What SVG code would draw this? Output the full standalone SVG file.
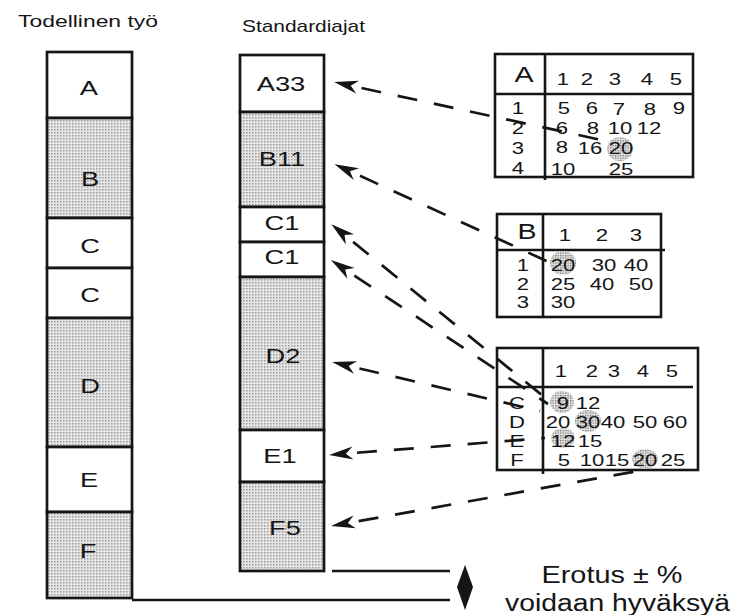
<svg xmlns="http://www.w3.org/2000/svg" width="731" height="615" viewBox="0 0 731 615">
<style>
text { font-family: "Liberation Sans", Arial, sans-serif; fill: #151515; }
.s { transform-box: fill-box; transform-origin: center; transform: scaleX(1.3); text-anchor: middle; }
.lbl { font-size: 21px; }
.th { font-size: 22px; }
.rl { font-size: 17px; }
.tn { font-size: 17px; }
.hd { font-size: 17px; }
.big { font-size: 23px; }
.box { stroke: #151515; stroke-width: 2.7; }
.w { fill: #ffffff; }
.g { fill: url(#dots); }
.tbl { fill: #ffffff; stroke: #151515; stroke-width: 2.6; }
.tl { stroke: #151515; stroke-width: 2.6; fill: none; }
.hl { fill: url(#dotsDark); }
.con { stroke: #151515; stroke-width: 2.7; stroke-dasharray: 20 17; stroke-dashoffset: 15; fill: none; marker-start: url(#ah); }
</style>
<defs>
<pattern id="dots" width="3" height="3" patternUnits="userSpaceOnUse">
<rect width="3" height="3" fill="#e6e6e6"/>
<rect width="1.5" height="1.5" fill="#9a9a9a"/>
</pattern>
<pattern id="dotsDark" width="2.5" height="2.5" patternUnits="userSpaceOnUse">
<rect width="2.5" height="2.5" fill="#e2e2e2"/>
<rect width="1.3" height="1.3" fill="#7a7a7a"/>
</pattern>
<marker id="ah" markerUnits="userSpaceOnUse" markerWidth="30" markerHeight="20" viewBox="-2 -10 30 20" refX="18" refY="0" orient="auto-start-reverse" overflow="visible">
<path d="M0,-6.5 L24,0 L0,6.5 L7,0 Z" fill="#151515"/>
</marker>
</defs>
<rect width="731" height="615" fill="#ffffff"/>

<!-- headers -->
<text id="h1" class="hd" x="18" y="27" textLength="140" lengthAdjust="spacingAndGlyphs">Todellinen työ</text>
<text id="h2" class="hd" x="242" y="32" textLength="123" lengthAdjust="spacingAndGlyphs">Standardiajat</text>

<!-- left column -->
<g id="L-A"><rect class="box w" x="47" y="52" width="85" height="66"/><text class="lbl s" x="89" y="95">A</text></g>
<g id="L-B"><rect class="box g" x="47" y="118" width="85" height="100"/><text class="lbl s" x="90" y="186">B</text></g>
<g id="L-C1"><rect class="box w" x="47" y="218" width="85" height="50"/><text class="lbl s" x="90" y="253">C</text></g>
<g id="L-C2"><rect class="box w" x="47" y="268" width="85" height="50"/><text class="lbl s" x="90" y="302">C</text></g>
<g id="L-D"><rect class="box g" x="47" y="318" width="85" height="129"/><text class="lbl s" x="90" y="393">D</text></g>
<g id="L-E"><rect class="box w" x="47" y="447" width="85" height="65"/><text class="lbl s" x="89" y="487">E</text></g>
<g id="L-F"><rect class="box g" x="47" y="512" width="85" height="86"/><text class="lbl s" x="88" y="558">F</text></g>

<!-- middle column -->
<g id="M-A33"><rect class="box w" x="240" y="55" width="84" height="57"/><text class="lbl s" x="281" y="91">A33</text></g>
<g id="M-B11"><rect class="box g" x="240" y="112" width="84" height="95"/><text class="lbl s" x="282" y="166">B11</text></g>
<g id="M-C1a"><rect class="box w" x="240" y="207" width="84" height="35"/><text class="lbl s" x="282" y="230">C1</text></g>
<g id="M-C1b"><rect class="box w" x="240" y="242" width="84" height="35"/><text class="lbl s" x="282" y="264">C1</text></g>
<g id="M-D2"><rect class="box g" x="240" y="277" width="84" height="153"/><text class="lbl s" x="283" y="363">D2</text></g>
<g id="M-E1"><rect class="box w" x="240" y="430" width="84" height="52"/><text class="lbl s" x="280" y="463">E1</text></g>
<g id="M-F5"><rect class="box g" x="240" y="482" width="84" height="89"/><text class="lbl s" x="285" y="535">F5</text></g>

<!-- table A -->
<g id="T-A">
<rect class="tbl" x="495" y="54" width="198" height="123"/>
<line class="tl" x1="545" y1="54" x2="545" y2="180"/>
<line class="tl" x1="495" y1="94" x2="693" y2="94"/>
<ellipse class="hl" cx="620" cy="149" rx="13" ry="12"/>
<text class="th s" x="524" y="82">A</text>
<text class="tn s" x="563" y="85">1</text><text class="tn s" x="587" y="85">2</text><text class="tn s" x="615" y="85">3</text><text class="tn s" x="647" y="85">4</text><text class="tn s" x="676" y="85">5</text>
<text class="tn s" x="518" y="114">1</text><text class="tn s" x="518" y="134">2</text><text class="tn s" x="518" y="154">3</text><text class="tn s" x="518" y="174">4</text>
<text class="tn s" x="564" y="114">5</text><text class="tn s" x="592" y="114">6</text><text class="tn s" x="619" y="115">7</text><text class="tn s" x="650" y="115">8</text><text class="tn s" x="679" y="114">9</text>
<text class="tn s" x="562" y="134">6</text><text class="tn s" x="593" y="134">8</text><text class="tn s" x="620" y="134">10</text><text class="tn s" x="649" y="134">12</text>
<text class="tn s" x="562" y="153">8</text><text class="tn s" x="590" y="154">16</text><text class="tn s" x="621" y="154">20</text>
<text class="tn s" x="563" y="175">10</text><text class="tn s" x="621" y="175">25</text>
</g>

<!-- table B -->
<g id="T-B">
<rect class="tbl" x="497" y="214" width="164" height="103"/>
<line class="tl" x1="543" y1="214" x2="543" y2="317"/>
<line class="tl" x1="497" y1="250" x2="665" y2="250"/>
<ellipse class="hl" cx="563" cy="263" rx="13" ry="12"/>
<text class="th s" x="527" y="239">B</text>
<text class="tn s" x="565" y="241">1</text><text class="tn s" x="602" y="241">2</text><text class="tn s" x="636" y="241">3</text>
<text class="tn s" x="523" y="271">1</text><text class="tn s" x="523" y="290">2</text><text class="tn s" x="523" y="308">3</text>
<text class="tn s" x="563" y="271">20</text><text class="tn s" x="604" y="271">30</text><text class="tn s" x="636" y="271">40</text>
<text class="tn s" x="563" y="290">25</text><text class="tn s" x="602" y="290">40</text><text class="tn s" x="641" y="290">50</text>
<text class="tn s" x="563" y="308">30</text>
</g>

<!-- table C-F -->
<g id="T-CF">
<rect class="tbl" x="497" y="348" width="201" height="122"/>
<line class="tl" x1="543" y1="348" x2="543" y2="474"/>
<line class="tl" x1="497" y1="387" x2="693" y2="387"/>
<ellipse class="hl" cx="562" cy="402" rx="12" ry="11"/>
<ellipse class="hl" cx="588" cy="421" rx="13" ry="11"/>
<ellipse class="hl" cx="563" cy="438" rx="12" ry="10"/>
<ellipse class="hl" cx="645" cy="459" rx="13" ry="10"/>
<text class="tn s" x="561" y="377">1</text><text class="tn s" x="592" y="377">2</text><text class="tn s" x="614" y="377">3</text><text class="tn s" x="643" y="377">4</text><text class="tn s" x="672" y="377">5</text>
<text class="rl s" x="517" y="409">C</text><text class="rl s" x="517" y="428">D</text><text class="rl s" x="517" y="447">E</text><text class="rl s" x="517" y="466">F</text>
<text class="tn s" x="563" y="409">9</text><text class="tn s" x="588" y="409">12</text>
<text class="tn s" x="558" y="428">20</text><text class="tn s" x="588" y="428">30</text><text class="tn s" x="613" y="428">40</text><text class="tn s" x="645" y="428">50</text><text class="tn s" x="675" y="428">60</text>
<text class="tn s" x="563" y="447">12</text><text class="tn s" x="590" y="447">15</text>
<text class="tn s" x="564" y="466">5</text><text class="tn s" x="592" y="466">10</text><text class="tn s" x="617" y="466">15</text><text class="tn s" x="645" y="466">20</text><text class="tn s" x="673" y="466">25</text>
</g>

<!-- connectors -->
<g id="connectors">
<line class="con" x1="340" y1="83.3" x2="606" y2="141"/>
<line class="con" x1="340" y1="166.7" x2="551" y2="263"/>
<line class="con" x1="336" y1="228" x2="548" y2="400"/>
<line class="con" x1="336" y1="263.4" x2="548" y2="404"/>
<line class="con" x1="338" y1="363.4" x2="540" y2="411"/>
<line class="con" x1="335" y1="454.5" x2="545" y2="438"/>
<line class="con" x1="337" y1="525" x2="638" y2="471"/>
</g>

<!-- tolerance indicator -->
<g id="tolerance">
<line class="tl" x1="332" y1="571" x2="450" y2="571"/>
<line class="tl" x1="132" y1="600" x2="450" y2="600"/>
<polygon points="465,565 473,587 465,610 457,587" fill="#151515"/>
<text class="big" x="612" y="583" text-anchor="middle" textLength="141" lengthAdjust="spacingAndGlyphs">Erotus ± %</text>
<text class="big" x="505" y="611" textLength="225" lengthAdjust="spacingAndGlyphs">voidaan hyväksyä</text>
</g>
</svg>
